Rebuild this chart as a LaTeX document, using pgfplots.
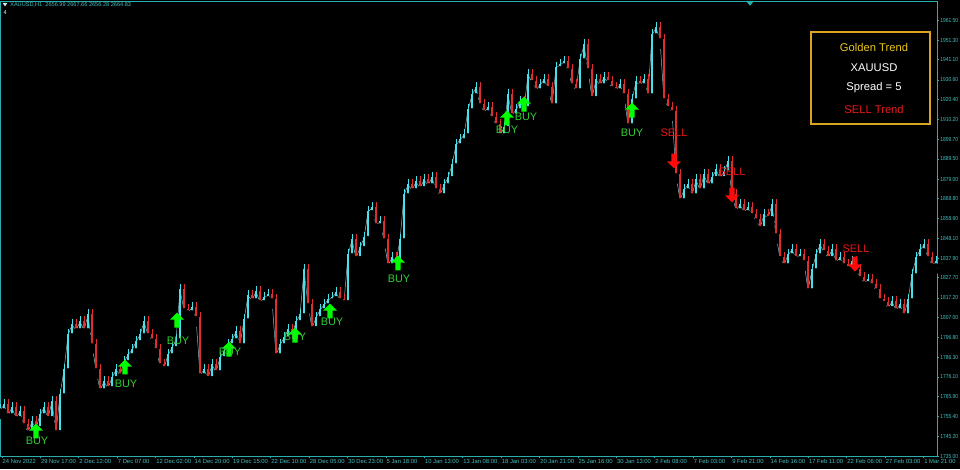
\documentclass[border=0pt]{standalone}
\usepackage{fontspec}
\setmainfont{Liberation Sans}
\newfontfamily\narrowfont[FakeStretch=0.84]{Liberation Sans}
\usepackage{pgfplots}
\usepackage{pgfplotstable}
\pgfplotsset{compat=1.18}
\definecolor{axiscol}{RGB}{40,175,175}
\definecolor{labcol}{RGB}{70,190,190}
\definecolor{candleup}{RGB}{70,225,235}
\definecolor{candledn}{RGB}{225,45,45}
\definecolor{linec}{RGB}{150,195,200}
\definecolor{buygreen}{RGB}{0,255,0}
\definecolor{buytext}{RGB}{50,205,50}
\definecolor{sellred}{RGB}{255,10,10}
\definecolor{selltext}{RGB}{230,25,25}
\definecolor{goldc}{RGB}{218,165,32}
\definecolor{goldtxt}{RGB}{232,200,30}

\pgfdeclareplotmark{buyarrow}{%
  \pgfpathmoveto{\pgfqpoint{0pt}{5.6pt}}%
  \pgfpathlineto{\pgfqpoint{5.2pt}{0.3pt}}%
  \pgfpathlineto{\pgfqpoint{1.9pt}{0.3pt}}%
  \pgfpathlineto{\pgfqpoint{1.9pt}{-5.6pt}}%
  \pgfpathlineto{\pgfqpoint{-1.9pt}{-5.6pt}}%
  \pgfpathlineto{\pgfqpoint{-1.9pt}{0.3pt}}%
  \pgfpathlineto{\pgfqpoint{-5.2pt}{0.3pt}}%
  \pgfpathclose
  \pgfusepathqfill}
\pgfdeclareplotmark{sellarrow}{%
  \pgfpathmoveto{\pgfqpoint{0pt}{-5.6pt}}%
  \pgfpathlineto{\pgfqpoint{5.2pt}{-0.3pt}}%
  \pgfpathlineto{\pgfqpoint{1.9pt}{-0.3pt}}%
  \pgfpathlineto{\pgfqpoint{1.9pt}{5.6pt}}%
  \pgfpathlineto{\pgfqpoint{-1.9pt}{5.6pt}}%
  \pgfpathlineto{\pgfqpoint{-1.9pt}{-0.3pt}}%
  \pgfpathlineto{\pgfqpoint{-5.2pt}{-0.3pt}}%
  \pgfpathclose
  \pgfusepathqfill}

\pgfplotstableread{
x c
0 1758.9
4 1761.5
8 1756.3
12 1760.0
16 1754.8
20 1757.9
24 1751.1
28 1747.5
32 1752.7
36 1749.6
40 1756.3
44 1760.0
48 1754.8
52 1763.1
56 1747.5
60 1766.7
64 1779.7
68 1797.9
72 1803.1
76 1800.5
80 1804.7
84 1800.5
88 1808.3
92 1792.7
96 1779.7
100 1769.3
104 1773.5
108 1770.4
112 1775.6
116 1779.7
120 1777.1
124 1783.9
128 1787.5
132 1790.1
136 1794.3
140 1797.9
144 1804.7
148 1797.9
152 1795.3
156 1790.1
160 1782.3
164 1780.8
168 1787.5
172 1791.2
176 1795.3
180 1821.3
184 1810.9
188 1809.9
192 1812.0
196 1806.8
200 1777.1
204 1779.7
208 1775.6
212 1782.3
216 1778.7
220 1786.0
224 1789.1
228 1792.7
232 1795.3
236 1799.5
240 1792.7
244 1805.7
248 1818.2
252 1816.1
256 1820.3
260 1815.1
264 1817.2
268 1818.7
272 1816.1
276 1787.5
280 1792.7
284 1796.4
288 1800.5
292 1797.9
296 1804.7
300 1808.3
304 1831.7
308 1813.5
312 1801.6
316 1806.8
320 1810.9
324 1813.5
328 1816.1
332 1817.2
336 1819.8
340 1816.1
344 1815.1
348 1839.5
352 1847.3
356 1838.0
360 1843.2
364 1848.4
368 1861.9
372 1864.0
376 1855.1
380 1856.7
384 1847.3
388 1834.3
392 1838.0
396 1835.9
400 1847.3
404 1870.7
408 1875.9
412 1873.3
416 1877.5
420 1874.4
424 1878.5
428 1875.9
432 1879.6
436 1873.3
440 1870.7
444 1875.9
448 1879.6
452 1886.3
456 1896.7
460 1899.3
464 1901.9
468 1914.9
472 1922.7
476 1926.4
480 1917.5
484 1913.9
488 1916.0
492 1910.8
496 1907.1
500 1901.9
504 1905.6
508 1922.7
512 1912.3
516 1914.9
520 1919.1
524 1916.0
528 1933.1
532 1929.5
536 1925.3
540 1927.9
544 1930.5
548 1926.4
552 1917.5
556 1936.8
560 1938.3
564 1939.9
568 1935.7
572 1927.9
576 1925.3
580 1940.9
584 1948.7
588 1935.7
592 1921.2
596 1930.5
600 1927.9
604 1931.6
608 1929.5
612 1926.4
616 1925.3
620 1927.9
624 1922.7
628 1907.1
632 1920.1
636 1929.5
640 1927.9
644 1930.5
648 1922.7
652 1953.9
656 1957.6
660 1951.3
664 1920.1
668 1916.0
672 1913.9
676 1881.1
680 1868.1
684 1873.3
688 1875.9
692 1870.7
696 1878.5
700 1873.3
704 1881.1
708 1875.9
712 1879.6
716 1883.7
720 1879.6
724 1882.7
728 1887.9
732 1870.7
736 1862.9
740 1865.5
744 1861.9
748 1864.0
752 1860.3
756 1857.7
760 1853.6
764 1860.3
768 1858.8
772 1865.5
776 1849.9
780 1838.0
784 1834.3
788 1839.5
792 1842.1
796 1838.0
800 1839.5
804 1835.9
808 1821.3
812 1831.7
816 1839.5
820 1844.7
824 1841.1
828 1838.0
832 1842.1
836 1835.9
840 1838.0
844 1834.3
848 1832.8
852 1835.9
856 1831.7
860 1827.6
864 1825.0
868 1826.5
872 1823.9
876 1821.3
880 1816.1
884 1814.6
888 1812.0
892 1815.1
896 1810.9
900 1813.5
904 1808.3
908 1816.1
912 1829.1
916 1838.0
920 1842.1
924 1844.7
928 1838.0
932 1834.3
936 1835.9
}\price
\pgfplotstablecreatecol[create col/assign/.code={%
  \ifnum\pgfplotstablerow=0 \getthisrow{c}\entry\else\getprevrow{c}\entry\fi
  \pgfkeyslet{/pgfplots/table/create col/next content}\entry}]{p}{\price}

\begin{document}
\begin{tikzpicture}
\useasboundingbox (0,0) rectangle (720pt,351.75pt);
\fill[black] (0,0) rectangle (720pt,351.75pt);
\begin{axis}[
  at={(0pt,9.75pt)}, anchor=south west,
  scale only axis, width=702.75pt, height=341.25pt,
  xmin=0, xmax=937, ymin=1735, ymax=1971.6,
  axis background/.style={fill=black},
  axis line style={axiscol, line width=0.6pt},
  xtick pos=left, ytick pos=right,
  tick align=outside, major tick length=1.8pt,
  tick style={axiscol, line width=0.5pt},
  xtick={2,40.4,78.8,117.2,155.6,194,232.4,270.8,309.2,347.6,386,424.4,462.8,501.2,539.6,578,616.4,654.8,693.2,731.6,770,808.4,846.8,885.2,923.6},
  xticklabels={24 Nov 2022,29 Nov 17:00,2 Dec 12:00,7 Dec 07:00,12 Dec 02:00,14 Dec 20:00,19 Dec 15:00,22 Dec 10:00,28 Dec 05:00,30 Dec 23:00,5 Jan 18:00,10 Jan 13:00,13 Jan 08:00,18 Jan 03:00,20 Jan 21:00,25 Jan 16:00,30 Jan 13:00,2 Feb 08:00,7 Feb 03:00,9 Feb 21:00,14 Feb 16:00,17 Feb 11:00,22 Feb 06:00,27 Feb 03:00,1 Mar 21:00},
  ytick={1961.5,1951.3,1941.1,1930.6,1920.4,1910.2,1899.7,1889.5,1879.0,1868.8,1858.6,1848.1,1837.9,1827.7,1817.2,1807.0,1796.8,1786.3,1776.1,1765.9,1755.4,1745.2,1735.0},
  yticklabels={1961.50,1951.30,1941.10,1930.60,1920.40,1910.20,1899.70,1889.50,1879.00,1868.80,1858.60,1848.10,1837.90,1827.70,1817.20,1807.00,1796.80,1786.30,1776.10,1765.90,1755.40,1745.20,1735.00},
  x tick label style={anchor=north west, inner sep=0.6pt, xshift=-0.3pt, text=labcol, font=\fontsize{4.4}{5}\selectfont},
  y tick label style={anchor=west, inner sep=0.5pt, text=labcol, font=\narrowfont\fontsize{4.4}{5}\selectfont},
  clip=true,
]
% thin connecting line through closes
\addplot[linec, line width=0.35pt] table[x=x, y=c] {\price};
% rising bars: wicks then bodies
\addplot[only marks, mark=none,
  restrict expr to domain={\thisrow{c}-\thisrow{p}}{0:1000},
  error bars/.cd, y dir=plus, y explicit, error mark=none,
  error bar style={candleup, line width=0.55pt}]
  table[x=x, y expr={min(\thisrow{c},\thisrow{p})-3.2},
        y error plus expr={abs(\thisrow{c}-\thisrow{p})+6.4}] {\price};
\addplot[only marks, mark=none,
  restrict expr to domain={\thisrow{c}-\thisrow{p}}{0:1000},
  error bars/.cd, y dir=plus, y explicit, error mark=none,
  error bar style={candleup, line width=1.3pt}]
  table[x=x, y expr={min(\thisrow{c},\thisrow{p})-0.6},
        y error plus expr={abs(\thisrow{c}-\thisrow{p})+1.2}] {\price};
% falling bars: wicks then bodies
\addplot[only marks, mark=none,
  restrict expr to domain={\thisrow{p}-\thisrow{c}}{0.001:1000},
  error bars/.cd, y dir=plus, y explicit, error mark=none,
  error bar style={candledn, line width=0.55pt}]
  table[x=x, y expr={min(\thisrow{c},\thisrow{p})-3.2},
        y error plus expr={abs(\thisrow{c}-\thisrow{p})+6.4}] {\price};
\addplot[only marks, mark=none,
  restrict expr to domain={\thisrow{p}-\thisrow{c}}{0.001:1000},
  error bars/.cd, y dir=plus, y explicit, error mark=none,
  error bar style={candledn, line width=1.3pt}]
  table[x=x, y expr={min(\thisrow{c},\thisrow{p})-0.6},
        y error plus expr={abs(\thisrow{c}-\thisrow{p})+1.2}] {\price};
% BUY signals
\addplot[only marks, mark=buyarrow, color=buygreen] coordinates {
  (36,1748.0) (125,1781.3) (177,1805.7) (229,1790.6) (295,1797.9)
  (330,1810.4) (398,1835.4) (507,1910.8) (524,1918.0) (632,1914.9)};
% SELL signals
\addplot[only marks, mark=sellarrow, color=sellred] coordinates {
  (674,1888.4) (732,1870.7) (855,1834.8)};
\coordinate (b1) at (axis cs:37,1742.8);
\coordinate (b2) at (axis cs:126,1772.4);
\coordinate (b3) at (axis cs:178,1794.8);
\coordinate (b4) at (axis cs:230,1789.1);
\coordinate (b5) at (axis cs:295,1796.9);
\coordinate (b6) at (axis cs:332,1804.7);
\coordinate (b7) at (axis cs:399,1827.0);
\coordinate (b8) at (axis cs:507,1904.5);
\coordinate (b9) at (axis cs:526,1911.3);
\coordinate (b10) at (axis cs:632,1903.0);
\coordinate (s1) at (axis cs:674,1903.0);
\coordinate (s2) at (axis cs:732,1882.7);
\coordinate (s3) at (axis cs:856,1842.6);
\end{axis}
% signal labels, drawn above the candles
\begin{scope}[font=\fontsize{8.2}{9}\selectfont]
\foreach \c in {b1,b2,b3,b4,b5,b6,b7,b8,b9,b10}{\node[text=buytext] at (\c) {BUY};}
\foreach \c in {s1,s2,s3}{\node[text=selltext] at (\c) {SELL};}
\end{scope}
% info box
\draw[goldc, line width=1.1pt] (608.25pt,258.75pt) rectangle (697.5pt,327.75pt);
\begin{scope}[font=\fontsize{8.4}{9}\selectfont]
\node[text=goldtxt] at (655.5pt,316.5pt) {Golden Trend};
\node[text=white] at (655.5pt,300.75pt) {XAUUSD};
\node[text=white] at (655.5pt,285.75pt) {Spread = 5};
\node[text=selltext] at (655.5pt,270pt) {SELL Trend};
\end{scope}
% header
\fill[white!80!cyan] (2pt,349.5pt) -- (5.5pt,349.5pt) -- (3.75pt,347pt) -- cycle;
\node[anchor=west, inner sep=0pt, text=labcol, font=\fontsize{4.2}{5}\selectfont] at (7.5pt,348pt) {XAUUSD,H1\ \ 2656.99 2667.66 2656.28 2664.83};
\node[anchor=west, inner sep=0pt, text=white!85!cyan, font=\fontsize{4.3}{5}\selectfont] at (2.5pt,342pt) {4};
% marker on top border
\fill[axiscol] (559.5pt,351pt) -- (565.5pt,351pt) -- (562.5pt,347.5pt) -- cycle;
\end{tikzpicture}
\end{document}
